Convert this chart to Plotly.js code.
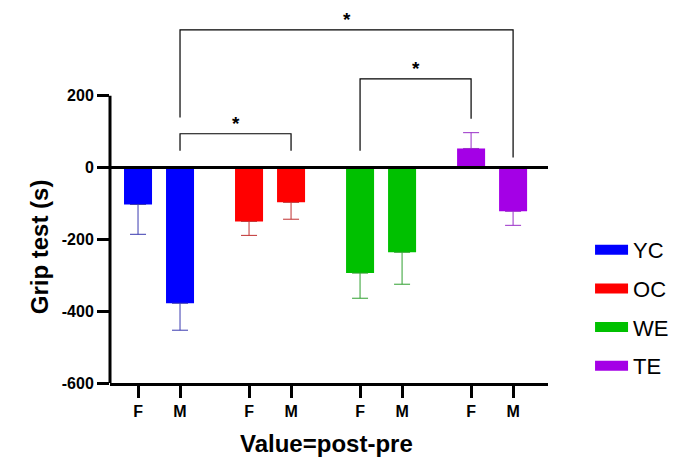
<!DOCTYPE html>
<html>
<head>
<meta charset="utf-8">
<script src="https://cdn.plot.ly/plotly-3.0.1.min.js"></script>
<style>html,body{margin:0;padding:0;background:#fff;}#chart{width:689px;height:464px;}</style>
</head>
<body>
<div id="chart"></div>
<script>
// ---- data ----
const groups = ['YC', 'OC', 'WE', 'TE'];
const sexes = ['F', 'M'];
const ycValues = [-103, -378];
const ycErrors = [83, 75];
const ocValues = [-150, -97];
const ocErrors = [39, 47];
const weValues = [-294, -236];
const weErrors = [70, 89];
const teValues = [53, -122];
const teErrors = [44, 39];
const yTicks = [-600, -400, -200, 0, 200];
const yTickLabels = ['-600', '-400', '-200', '0', '200'];
// significance brackets: [left bar index, right bar index]
const sigPairs = [[1, 3], [4, 6], [1, 7]];
const sigLevels = [94, 247, 383];
const sigLeftEnds = [47, 47, 139];
const sigRightEnds = [47, 136, 28];
const sigLabels = ['*', '*', '*'];

// ---- styling ----
const colors = ['#0000ff', '#ff0000', '#00c000', '#a400e6'];
const errColors = ['#3a3ab0', '#c03030', '#30a030', '#9a30c8'];
const groupStep = 2.643;
const FONT = 'Liberation Sans, Arial, sans-serif';

const valuesList = [ycValues, ocValues, weValues, teValues];
const errorsList = [ycErrors, ocErrors, weErrors, teErrors];

const xpos = [];
const ticktext = [];
groups.forEach((g, gi) => sexes.forEach((s, si) => { xpos.push(gi * groupStep + si); ticktext.push(s); }));

const traces = groups.map((g, gi) => {
  const vals = valuesList[gi];
  const errs = errorsList[gi];
  return {
    type: 'bar',
    name: g,
    legendgroup: g,
    showlegend: false,
    x: sexes.map((s, si) => gi * groupStep + si),
    y: vals,
    width: 0.667,
    marker: { color: colors[gi], line: { width: 0 } },
    error_y: {
      type: 'data',
      symmetric: false,
      array: vals.map((v, i) => v >= 0 ? errs[i] : 0),
      arrayminus: vals.map((v, i) => v < 0 ? errs[i] : 0),
      color: errColors[gi],
      thickness: 1,
      width: 8
    },
    hoverinfo: 'x+y'
  };
});
// legend entries with wide rectangular swatches
groups.forEach((g, gi) => {
  traces.push({
    type: 'scatter', mode: 'lines', name: g, legendgroup: g,
    x: [null], y: [null],
    line: { color: colors[gi], width: 15 },
    hoverinfo: 'skip'
  });
});

const shapes = [];
// y axis line (only through the ticked range)
shapes.push({ type: 'line', xref: 'paper', yref: 'y', x0: 0, x1: 0, y0: -600, y1: 200, line: { color: '#000', width: 3 } });
// zero line
shapes.push({ type: 'line', xref: 'paper', yref: 'y', x0: 0, x1: 1, y0: 0, y1: 0, line: { color: '#000', width: 3 } });

const annotations = [];
sigPairs.forEach((p, k) => {
  const xa = xpos[p[0]], xb = xpos[p[1]];
  shapes.push({
    type: 'path', xref: 'x', yref: 'y',
    path: `M${xa},${sigLeftEnds[k]} L${xa},${sigLevels[k]} L${xb},${sigLevels[k]} L${xb},${sigRightEnds[k]}`,
    line: { color: '#000', width: 1.2 }
  });
  annotations.push({
    xref: 'x', yref: 'y', x: (xa + xb) / 2, y: sigLevels[k], yanchor: 'bottom', yshift: -2,
    text: sigLabels[k], showarrow: false,
    font: { family: FONT, size: 19, color: '#000', weight: 'bold' }
  });
});

annotations.push({
  xref: 'paper', yref: 'y', x: -0.162, y: -222, xanchor: 'center', yanchor: 'middle',
  text: 'Grip test (s)', textangle: -90, showarrow: false,
  font: { family: FONT, size: 24, color: '#000', weight: 'bold' }
});
annotations.push({
  xref: 'paper', yref: 'paper', x: 0.495, y: -0.162, xanchor: 'center', yanchor: 'middle',
  text: 'Value=post-pre', showarrow: false,
  font: { family: FONT, size: 24, color: '#000', weight: 'bold' }
});

const layout = {
  width: 689, height: 464,
  margin: { l: 110, r: 141, t: 12, b: 81 },
  paper_bgcolor: '#fff', plot_bgcolor: '#fff',
  showlegend: true,
  legend: {
    x: 1.096, xanchor: 'left', y: 0.415, yanchor: 'top',
    traceorder: 'grouped', tracegroupgap: 7, itemwidth: 33,
    font: { family: FONT, size: 22, color: '#000' },
    bgcolor: 'rgba(0,0,0,0)'
  },
  xaxis: {
    range: [-0.667, 9.76],
    tickmode: 'array', tickvals: xpos, ticktext: ticktext,
    showline: true, linecolor: '#000', linewidth: 3,
    ticks: 'outside', ticklen: 12, tickwidth: 3, tickcolor: '#000',
    tickfont: { family: FONT, size: 16, color: '#000', weight: 'bold' },
    showgrid: false, zeroline: false, fixedrange: true
  },
  yaxis: {
    range: [-600, 433],
    tickmode: 'array', tickvals: yTicks, ticktext: yTickLabels,
    showline: false,
    ticks: 'outside', ticklen: 12, tickwidth: 3, tickcolor: '#000',
    tickfont: { family: FONT, size: 16, color: '#000', weight: 'bold' },
    showgrid: false, zeroline: false, fixedrange: true
  },
  shapes: shapes,
  annotations: annotations
};

Plotly.newPlot('chart', traces, layout, { displayModeBar: false, staticPlot: true });
</script>
</body>
</html>
